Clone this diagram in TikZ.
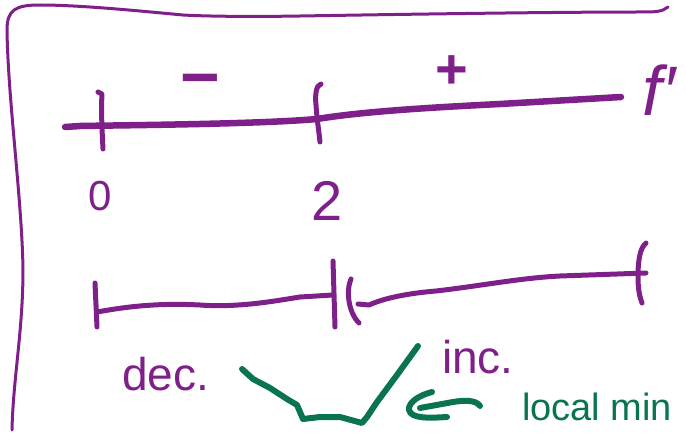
\documentclass[tikz,border=0pt]{standalone}
\usepackage{fontspec}
\setmainfont{Liberation Sans}
\definecolor{pen}{HTML}{7F1F8A}
\definecolor{ink}{HTML}{0A7452}
\tikzset{
  frame/.style={pen, line width=3, line cap=round, line join=round},
  axisline/.style={pen, line width=6.5, line cap=round, line join=round},
  tickmark/.style={pen, line width=5, line cap=round, line join=round},
  fline/.style={pen, line width=5, line cap=round, line join=round},
  greenline/.style={ink, line width=6, line cap=round, line join=round},
  lbl/.style={inner sep=0pt, text=pen},
  glbl/.style={inner sep=0pt, text=ink},
}
\begin{document}
\begin{tikzpicture}[x=1pt, y=-1pt]
\useasboundingbox (0,0) rectangle (686,433);

% frame
\coordinate (frEnd) at (668,7);
\coordinate (frStart) at (12,430);
\draw[frame] (frEnd) .. controls (662,12) and (655,12) .. (640,12)
  .. controls (560,12) and (420,14) .. (300,16)
  .. controls (240,17) and (200,16) .. (183,15)
  .. controls (140,11) and (80,5) .. (40,5)
  .. controls (15,5) and (7,10) .. (7,30)
  .. controls (8,100) and (22,200) .. (23,270)
  .. controls (23,330) and (13,380) .. (frStart);

% f' axis
\coordinate (ax0) at (65,127);
\coordinate (ax1) at (621,97);
\draw[axisline] (ax0) -- (80,126) .. controls (140,125) and (260,124) .. (317,119) .. controls (360,112) and (420,108) .. (500,104) -- (ax1);

% ticks on f' axis
\coordinate (t0top) at (98,92);
\coordinate (t0bot) at (103,149);
\draw[tickmark] (t0top) -- (102,94) .. controls (101,110) and (102,130) .. (t0bot);
\coordinate (t2top) at (321,84);
\coordinate (t2bot) at (320,142);
\draw[tickmark] (t2top) .. controls (316,85) and (315,95) .. (316,105) .. controls (317,120) and (319,132) .. (t2bot);

% signs
\node[lbl, font=\bfseries\fontsize{68}{70}\selectfont] (minus) at (200,87) {−};
\node[lbl, font=\bfseries\fontsize{56}{60}\selectfont] (plus) at (452,72) {+};
\node[lbl, font=\fontsize{70}{72}\selectfont\itshape, anchor=center] (fprime) at (659,90) {f′};

% numbers
\node[lbl, font=\fontsize{42}{46}\selectfont] (zero) at (100,196) {0};
\node[lbl, font=\fontsize{56}{60}\selectfont] (two) at (327,201) {2};

% f line
\coordinate (fl0top) at (95,283);
\coordinate (fl0bot) at (97,327);
\draw[tickmark] (fl0top) -- (fl0bot);
\coordinate (fl0) at (97,312);
\coordinate (fl1) at (333,295);
\draw[fline] (fl0) .. controls (130,306) and (160,303) .. (200,305) .. controls (240,308) and (280,300) .. (300,297) -- (fl1);
\coordinate (barTop) at (333,261);
\coordinate (barBot) at (335,327);
\draw[tickmark] (barTop) -- (barBot);
\coordinate (brTop) at (351,279);
\coordinate (brBot) at (359,323);
\draw[tickmark] (brTop) .. controls (346,290) and (348,312) .. (brBot);
\coordinate (fr0) at (358,304);
\coordinate (fr1) at (646,273);
\draw[fline] (fr0) -- (369,305) .. controls (380,300) and (400,294) .. (436,291) .. controls (480,286) and (520,278) .. (560,276) -- (fr1);
\coordinate (rtTop) at (646,243);
\coordinate (rtBot) at (642,303);
\draw[tickmark] (rtTop) .. controls (640,248) and (638,260) .. (638,277) .. controls (638,290) and (640,298) .. (rtBot);

% labels
\node[lbl, font=\fontsize{46}{50}\selectfont, anchor=base west] (dec) at (122,390) {dec.};
\node[lbl, font=\fontsize{46}{50}\selectfont, anchor=base west] (inc) at (442,373) {inc.};
\node[glbl, font=\fontsize{38}{42}\selectfont, anchor=base west] (lmin) at (522,420) {local min};

% green curve
\coordinate (g0) at (242,369);
\coordinate (g1) at (418,346);
\draw[greenline] (g0) -- (253,379) -- (270,388) -- (287,399) -- (297,405) -- (303,419) -- (320,417) -- (340,417) -- (362,423) -- (367,417) -- (377,402) -- (397,375) -- (g1);

% green arrow
\coordinate (arTail) at (480,406);
\coordinate (arEnd) at (420,408);
\draw[greenline] (arTail) .. controls (476,400) and (465,400) .. (453,402) -- (arEnd);
\coordinate (hdTop) at (432,392);
\coordinate (hdTip) at (409,410);
\coordinate (hdBot) at (447,417);
\draw[greenline] (hdTop) .. controls (420,395) and (408,402) .. (hdTip) .. controls (411,419) and (430,418) .. (hdBot);
\end{tikzpicture}
\end{document}
